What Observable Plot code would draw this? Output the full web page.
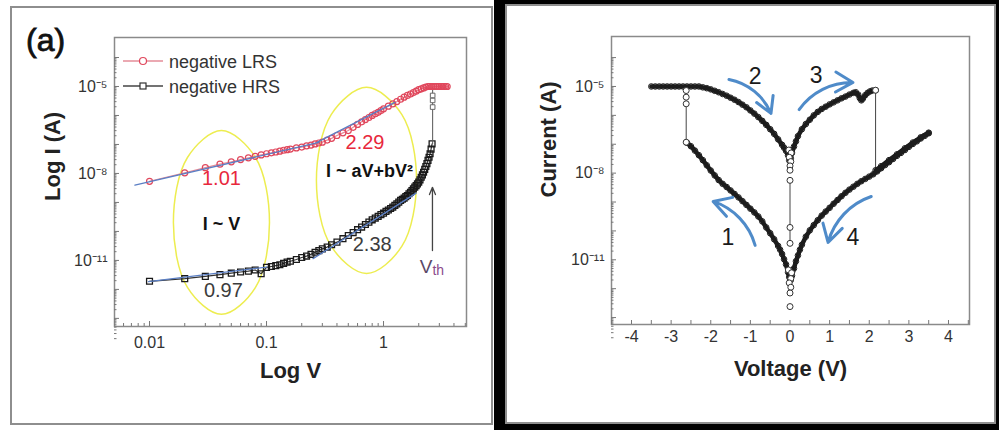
<!DOCTYPE html>
<html><head><meta charset="utf-8">
<script src="https://cdn.jsdelivr.net/npm/d3@7"></script>
<script src="https://cdn.jsdelivr.net/npm/@observablehq/plot@0.6"></script>
<style>
body{margin:0;background:#fff;}
#page{position:relative;width:999px;height:430px;overflow:hidden;background:#fff;font-family:"Liberation Sans",Arial,sans-serif;}
.blk{position:absolute;background:#000;}
.panel{position:absolute;box-sizing:border-box;border:2px solid #8e8e8e;background:#fff;}
.plot{position:absolute;top:0;}
#tag{position:absolute;left:26px;top:24px;font:32px/32px "Liberation Sans",Arial,sans-serif;color:#111;-webkit-text-stroke:0.8px #111;}
#legend{position:absolute;left:0;top:0;}
</style></head><body><div id="page">
<div class="blk" style="left:494px;top:0;width:505px;height:430px"></div>
<div class="panel" style="left:10px;top:6px;width:483px;height:419px"></div>
<div class="panel" style="left:505px;top:4px;width:491px;height:420px"></div>
<div id="left" class="plot" style="left:0"></div>
<div id="right" class="plot" style="left:500px"></div>
<div id="tag">(a)</div>
<svg id="legend" width="500" height="120">
  <line x1="123" y1="61" x2="163" y2="61" stroke="#e58c98" stroke-width="1.5"/>
  <circle cx="143" cy="61" r="3.5" fill="#fff" stroke="#e0475c" stroke-width="1.2"/>
  <text x="169" y="67.5" font-family="Liberation Sans, Arial, sans-serif" font-size="18" fill="#333">negative LRS</text>
  <line x1="123" y1="86" x2="163" y2="86" stroke="#444" stroke-width="1.5"/>
  <rect x="140" y="83" width="6" height="6" fill="#fff" stroke="#333" stroke-width="1.2"/>
  <text x="169" y="92.5" font-family="Liberation Sans, Arial, sans-serif" font-size="18" fill="#333">negative HRS</text>
</svg>
</div>
<script>
// ---------- Panel (a): log I vs log V ----------
const lrsV = [0.01,0.02,0.03,0.04,0.05,0.06,0.07,0.08,0.09,0.1,0.11,0.12,0.13,0.14,0.15,0.16,0.18,0.2,0.22,0.24,0.26,0.28,0.3,0.33,0.36,0.4,0.45,0.5,0.55,0.6,0.65,0.7,0.75,0.8,0.85,0.9,0.95,1.0,1.1,1.2,1.3,1.4,1.5,1.6,1.7,1.8,1.9,2.0,2.1,2.2,2.3,2.4,2.5,2.6,2.7,2.8,2.9,3.0,3.1,3.2,3.3,3.4,3.5];
const lrsLogI = [-8.27,-7.98,-7.8,-7.68,-7.6,-7.52,-7.46,-7.41,-7.36,-7.32,-7.29,-7.26,-7.23,-7.2,-7.18,-7.16,-7.12,-7.09,-7.05,-7.02,-6.98,-6.95,-6.92,-6.85,-6.79,-6.69,-6.6,-6.52,-6.41,-6.31,-6.22,-6.14,-6.07,-6.0,-5.94,-5.89,-5.83,-5.77,-5.68,-5.6,-5.52,-5.44,-5.37,-5.31,-5.26,-5.21,-5.16,-5.11,-5.08,-5.05,-5.02,-5.0,-5,-5,-5,-5,-5,-5,-5,-5,-5,-5,-5];
const hrsV = [0.01,0.02,0.03,0.04,0.05,0.06,0.07,0.08,0.09,0.1,0.11,0.12,0.13,0.14,0.15,0.16,0.18,0.2,0.22,0.24,0.26,0.28,0.3,0.33,0.36,0.4,0.45,0.5,0.55,0.6,0.65,0.7,0.75,0.8,0.85,0.9,0.95,1.0,1.05,1.1,1.15,1.2,1.25,1.3,1.35,1.4,1.45,1.5,1.55,1.6,1.65,1.7,1.75,1.8,1.85,1.9,1.95,2.0,2.05,2.1,2.15,2.2,2.25,2.3,2.35,2.4,2.45,2.5,2.55,2.6];
const hrsLogI = [-11.72,-11.63,-11.55,-11.49,-11.44,-11.4,-11.37,-11.33,-11.46,-11.24,-11.21,-11.18,-11.15,-11.1,-11.06,-11.03,-10.97,-10.9,-10.85,-10.79,-10.72,-10.66,-10.6,-10.54,-10.46,-10.37,-10.25,-10.14,-10.04,-9.94,-9.85,-9.76,-9.68,-9.6,-9.54,-9.48,-9.42,-9.37,-9.31,-9.26,-9.21,-9.16,-9.1,-9.05,-8.99,-8.93,-8.89,-8.85,-8.8,-8.76,-8.7,-8.65,-8.59,-8.53,-8.47,-8.42,-8.36,-8.3,-8.22,-8.13,-8.05,-7.96,-7.86,-7.76,-7.66,-7.55,-7.44,-7.32,-7.16,-6.98];
const hrsJumpV = [2.63, 2.63];
const hrsJumpLogI = [-6.98, -5.0];
const hrsJumpPtV = [2.63, 2.63, 2.63];
const hrsJumpPtLogI = [-5.71, -5.48, -5.31];
// fitted lines (end points)
const fitLrs1V = [0.0075, 0.28], fitLrs1LogI = [-8.4, -6.93];
const fitLrs2V = [0.27, 1.25],   fitLrs2LogI = [-6.93, -5.55];
const fitHrs1V = [0.0098, 0.1],  fitHrs1LogI = [-11.73, -11.23];
const fitHrs2V = [0.25, 1.9],    fitHrs2LogI = [-10.94, -8.68];
// highlight ellipses (outline points)
const ell1V = [0.0412,0.0805,0.106,0.0805,0.0412,0.0211,0.016,0.0211];
const ell1LogI = [-6.52,-7.45,-9.69,-11.93,-12.86,-11.93,-9.69,-7.45];
const ell2V = [0.716,1.436,1.915,1.436,0.716,0.357,0.267,0.357];
const ell2LogI = [-5.03,-5.97,-8.24,-10.51,-11.45,-10.51,-8.24,-5.97];
// annotations
const slopeRedText = ["1.01","2.29"], slopeRedV = [0.0412,0.695], slopeRedLogI = [-8.19,-6.95];
const slopeGrayText = ["0.97","2.38"], slopeGrayV = [0.0428,0.80], slopeGrayLogI = [-12.05,-10.45];
const lawText = ["I ~ V","I ~ aV+bV²"], lawV = [0.0412,0.76], lawLogI = [-9.74,-7.93];
const vthV = [2.62], vthFromLogI = [-10.66], vthToLogI = [-8.48], vthLabelLogI = [-11.24];
// axes
const xMajorA = [0.01, 0.1, 1], xMajorLabelA = ["0.01","0.1","1"];
const xMinorA = [0.006,0.007,0.008,0.009,0.02,0.03,0.04,0.05,0.06,0.07,0.08,0.09,0.2,0.3,0.4,0.5,0.6,0.7,0.8,0.9,2,3,4,5];
const yDecades = [-4,-5,-6,-7,-8,-9,-10,-11,-12,-13];
const yLabelExp = [-5,-8,-11], yLabelText = ["10⁻⁵","10⁻⁸","10⁻¹¹"];

// ---------- Panel (b): I-V sweep ----------
const b1V = [-0.02,-0.05,-0.1,-0.15,-0.2,-0.25,-0.3,-0.4,-0.5,-0.6,-0.7,-0.8,-0.9,-1.0,-1.1,-1.2,-1.3,-1.4,-1.5,-1.6,-1.7,-1.8,-1.9,-2.0,-2.1,-2.2,-2.3,-2.4,-2.5,-2.6];
const b1LogI = [-11.6,-11.43,-11.16,-10.98,-10.8,-10.65,-10.52,-10.29,-10.08,-9.88,-9.67,-9.5,-9.36,-9.23,-9.1,-8.97,-8.84,-8.72,-8.6,-8.48,-8.37,-8.24,-8.08,-7.91,-7.73,-7.55,-7.38,-7.22,-7.07,-6.95];
const b2V = [-3.5,-3.4,-3.3,-3.2,-3.1,-3.0,-2.9,-2.8,-2.7,-2.6,-2.5,-2.4,-2.3,-2.2,-2.1,-2.0,-1.9,-1.8,-1.7,-1.6,-1.5,-1.4,-1.3,-1.2,-1.1,-1.0,-0.9,-0.8,-0.7,-0.6,-0.5,-0.4,-0.3,-0.2,-0.15,-0.1,-0.05,-0.02];
const b2LogI = [-5,-5,-5,-5,-5,-5,-5,-5,-5,-5,-5,-5,-5,-5.03,-5.06,-5.1,-5.15,-5.2,-5.26,-5.32,-5.39,-5.46,-5.54,-5.63,-5.72,-5.83,-5.94,-6.06,-6.19,-6.33,-6.48,-6.64,-6.83,-7.02,-7.12,-7.23,-7.38,-7.56];
const b3V = [0.02,0.05,0.1,0.15,0.2,0.3,0.4,0.5,0.6,0.7,0.8,0.9,1.0,1.1,1.2,1.3,1.4,1.5,1.6,1.66,1.72,1.76,1.8,1.84,1.9,1.96,2.02,2.08,2.16];
const b3LogI = [-7.5,-7.3,-7.08,-6.9,-6.72,-6.48,-6.3,-6.15,-6.0,-5.88,-5.78,-5.7,-5.62,-5.55,-5.48,-5.41,-5.35,-5.28,-5.22,-5.2,-5.28,-5.4,-5.48,-5.42,-5.3,-5.22,-5.17,-5.14,-5.13];
const b4fV = [2.16,2.3,2.5,2.7,2.9,3.1,3.3,3.5];
const b4fLogI = [-7.9,-7.76,-7.55,-7.35,-7.14,-6.94,-6.76,-6.6];
const b4rV = [3.5,3.4,3.3,3.2,3.1,3.0,2.9,2.8,2.7,2.6,2.5,2.4,2.3,2.2,2.1,2.0,1.9,1.8,1.7,1.6,1.5,1.4,1.3,1.2,1.1,1.0,0.9,0.8,0.7,0.6,0.5,0.4,0.3,0.25,0.2,0.15,0.1,0.05,0.02];
const b4rLogI = [-6.62,-6.71,-6.8,-6.9,-6.99,-7.09,-7.2,-7.3,-7.4,-7.51,-7.62,-7.72,-7.83,-7.94,-8.04,-8.12,-8.2,-8.28,-8.37,-8.47,-8.57,-8.68,-8.8,-8.93,-9.06,-9.2,-9.33,-9.47,-9.63,-9.8,-9.98,-10.2,-10.48,-10.65,-10.85,-11.05,-11.3,-11.55,-11.7];
const openV = [-2.62,-2.62,-2.62,-2.62,-0.03,0.03,-0.02,0.02,0,0,0,0,0,-0.04,0.04,0.02,-0.02,0.02,0,0,2.16];
const openLogI = [-5.14,-5.37,-5.6,-6.93,-7.2,-7.3,-7.45,-7.6,-7.75,-7.9,-8.25,-9.88,-10.43,-11.35,-11.45,-11.65,-11.8,-11.95,-12.15,-12.62,-5.13];
const jumpV = [-2.62, 0, 2.16], jumpTopLogI = [-5.0,-8.25,-5.13], jumpBotLogI = [-6.93,-10.43,-7.9];
const stepText = ["1","2","3","4"], stepV = [-1.57,-0.88,0.66,1.59], stepLogI = [-10.22,-4.67,-4.62,-10.22];
// sweep-direction arrows: 2 and 3 bend clockwise, 1 and 4 counter-clockwise
const arrCwFromV = [-1.54, 0.23], arrCwFromLogI = [-4.76, -5.8];
const arrCwToV = [-0.48, 1.59],   arrCwToLogI = [-5.93, -4.86];
const arrCcwFromV = [-0.88, 2.05], arrCcwFromLogI = [-10.5, -8.81];
const arrCcwToV = [-1.94, 0.96],   arrCcwToLogI = [-8.98, -10.4];
const xTicksB = [-4,-3,-2,-1,0,1,2,3,4];
const xMinorB = [-4.5,-3.5,-2.5,-1.5,-0.5,0.5,1.5,2.5,3.5,4.5];

// ---------- helpers ----------
const pts = (xs, ls) => xs.map((v, i) => ({V: v, I: Math.pow(10, ls[i])}));
const segs = (x1, l1, x2, l2) => x1.map((v, i) => ({x1: v, y1: Math.pow(10, l1[i]), x2: x2[i], y2: Math.pow(10, l2[i])}));
const F = "Liberation Sans, Arial, sans-serif";
const yMinor = [];
yDecades.forEach(e => { for (let k = 2; k <= 9; k++) yMinor.push(k * Math.pow(10, e - 1)); });
const yMajor = yDecades.map(e => Math.pow(10, e));
const yLab = yLabelExp.map(e => Math.pow(10, e));
const fmtY = d => yLabelText[yLabelExp.indexOf(Math.round(Math.log10(d)))];

function yAxes(minorList) {
  return [
    Plot.axisY(minorList, {anchor: "left", tickSize: -2.5, tickFormat: () => "", stroke: "#777", label: null}),
    Plot.axisY(yMajor, {anchor: "left", tickSize: -5, tickFormat: () => "", stroke: "#777", label: null}),
    Plot.axisY(yLab, {anchor: "left", tickSize: 0, tickPadding: 7, tickFormat: fmtY, fontSize: 16, fontFamily: F, fill: "#333", label: null})
  ];
}

// ---------- left plot ----------
const lrs = pts(lrsV, lrsLogI), hrs = pts(hrsV, hrsLogI);
const left = Plot.plot({
  width: 500, height: 430,
  marginLeft: 114, marginRight: 34, marginTop: 37, marginBottom: 104,
  style: {background: "transparent", overflow: "visible"},
  x: {type: "log", domain: [0.00502, 5.12]},
  y: {type: "log", domain: [Math.pow(10, -13.28), Math.pow(10, -3.31)]},
  marks: [
    Plot.line(pts(ell1V, ell1LogI), {x: "V", y: "I", curve: "catmull-rom-closed", stroke: "#eded50", strokeWidth: 1.5}),
    Plot.line(pts(ell2V, ell2LogI), {x: "V", y: "I", curve: "catmull-rom-closed", stroke: "#eded50", strokeWidth: 1.5}),
    Plot.line(hrs, {x: "V", y: "I", stroke: "#333", strokeWidth: 1.2}),
    Plot.dot(hrs, {x: "V", y: "I", symbol: "square", r: 3.3, stroke: "#1a1a1a", fill: "none", strokeWidth: 1.3}),
    Plot.line(pts(hrsJumpV, hrsJumpLogI), {x: "V", y: "I", stroke: "#555", strokeWidth: 1}),
    Plot.dot(pts(hrsJumpPtV, hrsJumpPtLogI), {x: "V", y: "I", symbol: "square", r: 2.6, stroke: "#666", fill: "#fff", strokeWidth: 1}),
    Plot.line(lrs, {x: "V", y: "I", stroke: "#e58c98", strokeWidth: 1.2}),
    Plot.dot(lrs, {x: "V", y: "I", r: 3, stroke: "#e0475c", fill: "none", strokeWidth: 1.2}),
    Plot.line(pts(fitLrs1V, fitLrs1LogI), {x: "V", y: "I", stroke: "#5b7fc4", strokeWidth: 1.3}),
    Plot.line(pts(fitLrs2V, fitLrs2LogI), {x: "V", y: "I", stroke: "#5b7fc4", strokeWidth: 1.3}),
    Plot.line(pts(fitHrs1V, fitHrs1LogI), {x: "V", y: "I", stroke: "#5b7fc4", strokeWidth: 1.3}),
    Plot.line(pts(fitHrs2V, fitHrs2LogI), {x: "V", y: "I", stroke: "#5b7fc4", strokeWidth: 1.3}),
    Plot.arrow(segs(vthV, vthFromLogI, vthV, vthToLogI),
      {x1: "x1", x2: "x2", y1: "y1", y2: "y2", stroke: "#444", strokeWidth: 1.3, headLength: 9, headAngle: 45}),
    Plot.text(pts(slopeRedV, slopeRedLogI), {x: "V", y: "I", text: (d, i) => slopeRedText[i], fill: "#e8283c", fontSize: 20, fontFamily: F}),
    Plot.text(pts(slopeGrayV, slopeGrayLogI), {x: "V", y: "I", text: (d, i) => slopeGrayText[i], fill: "#3c3c3c", fontSize: 20, fontFamily: F}),
    Plot.text(pts(lawV, lawLogI), {x: "V", y: "I", text: (d, i) => lawText[i], fill: "#111", fontSize: 18, fontWeight: "bold", fontFamily: F}),
    Plot.text(pts(vthV, vthLabelLogI), {x: "V", y: "I", text: () => "V", textAnchor: "end", fill: "#5a4868", fontSize: 19, fontFamily: F}),
    Plot.text(pts(vthV, vthLabelLogI), {x: "V", y: "I", text: () => "th", textAnchor: "start", dy: 3, fill: "#8c4b8c", fontSize: 14, fontFamily: F}),
    Plot.frame({stroke: "#8a8a8a", strokeWidth: 1.5}),
    Plot.axisX(xMinorA, {anchor: "bottom", tickSize: -3, tickFormat: () => "", stroke: "#777", label: null}),
    Plot.axisX(xMajorA, {anchor: "bottom", tickSize: -5, tickFormat: () => "", stroke: "#777", label: null}),
    Plot.axisX(xMajorA, {anchor: "bottom", tickSize: 0, tickPadding: 10, tickFormat: (d) => xMajorLabelA[xMajorA.indexOf(d)], fontSize: 16, fontFamily: F, fill: "#333", label: null}),
    ...yAxes(yMinor),
    Plot.text(["Log V"], {frameAnchor: "bottom", dy: 51, fontSize: 22, fontWeight: "bold", fontFamily: F, fill: "#222"}),
    Plot.text(["Log I (A)"], {frameAnchor: "left", dx: -62, dy: 19, rotate: -90, fontSize: 22, fontWeight: "bold", fontFamily: F, fill: "#222"})
  ]
});
document.getElementById("left").append(left);

// ---------- right plot ----------
const thick = (data) => [
  Plot.line(data, {x: "V", y: "I", stroke: "#1c1c1c", strokeWidth: 4.5, strokeLinejoin: "round"}),
  Plot.dot(data, {x: "V", y: "I", r: 2.8, stroke: "#1c1c1c", fill: "none", strokeWidth: 1})
];
const arrowStyle = {x1: "x1", y1: "y1", x2: "x2", y2: "y2", stroke: "#4f8bc9", strokeWidth: 3, headLength: 10};
const right = Plot.plot({
  width: 499, height: 430,
  marginLeft: 111, marginRight: 30, marginTop: 36, marginBottom: 106,
  style: {background: "transparent", overflow: "visible"},
  x: {domain: [-4.505, 4.53]},
  y: {type: "log", domain: [Math.pow(10, -13.24), Math.pow(10, -3.27)]},
  marks: [
    Plot.link(segs(jumpV, jumpTopLogI, jumpV, jumpBotLogI),
      {x1: "x1", x2: "x2", y1: "y1", y2: "y2", stroke: "#444", strokeWidth: 1}),
    ...thick(pts(b1V, b1LogI)),
    ...thick(pts(b2V, b2LogI)),
    ...thick(pts(b3V, b3LogI)),
    ...thick(pts(b4fV, b4fLogI)),
    ...thick(pts(b4rV, b4rLogI)),
    Plot.dot(pts(openV, openLogI), {x: "V", y: "I", r: 3, stroke: "#333", fill: "#fff", strokeWidth: 1}),
    Plot.arrow(segs(arrCwFromV, arrCwFromLogI, arrCwToV, arrCwToLogI), {...arrowStyle, bend: 28}),
    Plot.arrow(segs(arrCcwFromV, arrCcwFromLogI, arrCcwToV, arrCcwToLogI), {...arrowStyle, bend: -28}),
    Plot.text(pts(stepV, stepLogI), {x: "V", y: "I", text: (d, i) => stepText[i], fill: "#1a1a1a", fontSize: 23, fontFamily: F}),
    Plot.frame({stroke: "#8a8a8a", strokeWidth: 1.5}),
    Plot.axisX(xMinorB, {anchor: "bottom", tickSize: -4, tickFormat: () => "", stroke: "#777", label: null}),
    Plot.axisX(xTicksB, {anchor: "bottom", tickSize: -4, tickPadding: 10, tickFormat: d => String(d), fontSize: 16, fontFamily: F, fill: "#333", stroke: "#777", label: null}),
    ...yAxes(yMinor),
    Plot.text(["Voltage (V)"], {frameAnchor: "bottom", dy: 51, fontSize: 22, fontWeight: "bold", fontFamily: F, fill: "#222"}),
    Plot.text(["Current (A)"], {frameAnchor: "left", dx: -63, dy: 17, rotate: -90, fontSize: 22, fontWeight: "bold", fontFamily: F, fill: "#222"})
  ]
});
document.getElementById("right").append(right);
</script>
</body></html>
